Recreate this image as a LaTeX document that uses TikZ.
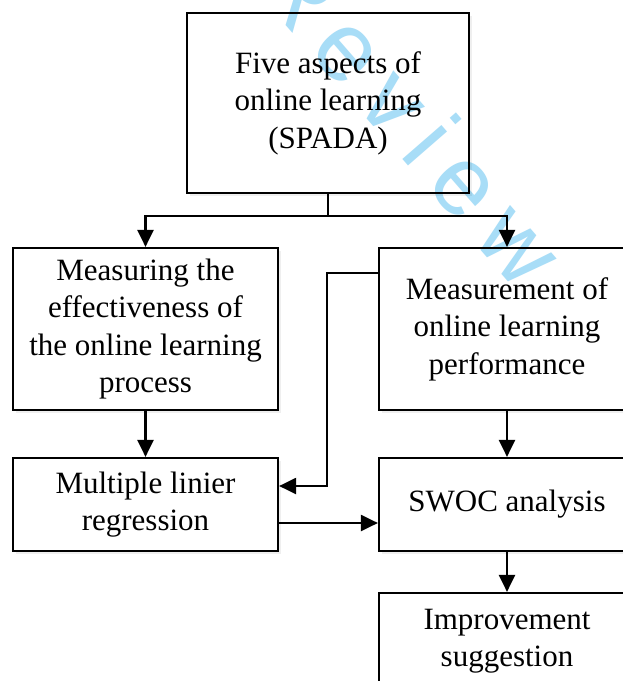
\documentclass[tikz,border=0pt]{standalone}
\usepackage{fontspec}
\setmainfont{Liberation Serif}
\newfontfamily\wmfont[LetterSpace=18]{Liberation Sans}
\usepackage{tikz}
\usetikzlibrary{shadows}
\usetikzlibrary{positioning}
\usetikzlibrary{arrows.meta,shapes}
\usetikzlibrary{calc}
\definecolor{wmblue}{RGB}{168,221,247}
\tikzstyle{stage}=[rectangle,draw,line width=2.2pt,fill=white,align=center,inner sep=0pt,font=\fontsize{31}{37.5}\selectfont,drop shadow={shadow xshift=3pt,shadow yshift=-3pt,opacity=0.12}]
\tikzstyle{flow}=[-{Triangle[length=17pt,width=16pt]},line width=2.2pt]

\begin{document}
\begin{tikzpicture}[x=1pt,y=-1pt]

  \clip (0,0) rectangle (623,681);
  \fill[white] (0,0) rectangle (623,681);

  \node[stage, minimum width=282pt, minimum height=180pt] (spada) at (328,103) {Five aspects of\\online learning\\(SPADA)};

  \node[stage, minimum width=265pt, minimum height=162pt] (process) at (145.5,329) {Measuring the\\effectiveness of\\the online learning\\process};
  \node[stage, minimum width=256pt, minimum height=162pt] (perf) at (507,329) {Measurement of\\online learning\\performance};

  \node[stage, minimum width=265pt, minimum height=93pt] (mlr) at (145.5,504.5) {Multiple linier\\regression};
  \node[stage, minimum width=256pt, minimum height=93pt] (swoc) at (507,504.5) {SWOC analysis};

  \node[stage, minimum width=256pt, minimum height=96pt] (improve) at (507,641) {Improvement\\suggestion};

  % split from the top box
  \draw[flow] (spada.south) -- ++(0,22) -| (process.north);
  \draw[flow] (spada.south) -- ++(0,22) -| (perf.north);

  \foreach \source/\dest in {process/mlr, perf/swoc, swoc/improve}
      \draw[flow] (\source.south) -- (\dest.north);

  % feedback line into the regression box
  \draw[flow] ([yshift=56pt]perf.west) -- ++(-51,0) |- ([yshift=18.5pt]mlr.east);
  \draw[flow] ([yshift=-18.5pt]mlr.east) -- ([yshift=-18.5pt]swoc.west);

  \begin{scope}[blend mode=multiply]
    \node[rotate=-49, text=wmblue, font=\wmfont\fontsize{98}{98}\selectfont] (watermark) at (410,115) {Review};
  \end{scope}

\end{tikzpicture}
\end{document}
